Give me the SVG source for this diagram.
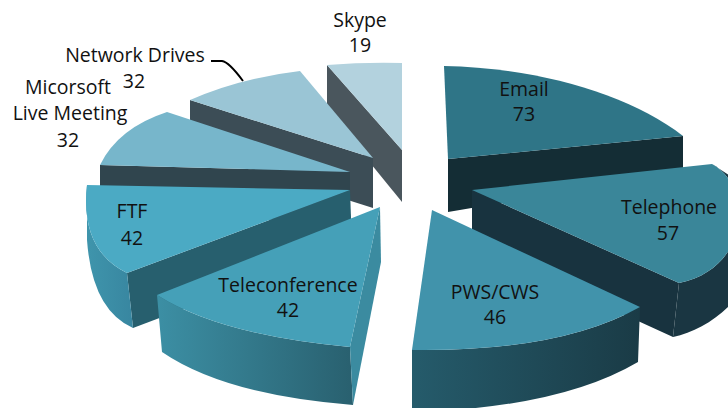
<svg xmlns="http://www.w3.org/2000/svg" width="728" height="408" viewBox="0 0 728 408">
  <defs>
    <linearGradient id="gTeleconfSide" x1="0" y1="0" x2="1" y2="0">
      <stop offset="0" stop-color="#3C8FA4"/>
      <stop offset="1" stop-color="#29606F"/>
    </linearGradient>
    <linearGradient id="gPwsSide" x1="0" y1="0" x2="1" y2="0">
      <stop offset="0" stop-color="#255B6B"/>
      <stop offset="1" stop-color="#1A3B46"/>
    </linearGradient>
    <linearGradient id="gFtfSide" x1="0" y1="0" x2="1" y2="0">
      <stop offset="0" stop-color="#3F95AC"/>
      <stop offset="1" stop-color="#3886A0"/>
    </linearGradient>
  </defs>
  <style>
    .lbl { font-family: "Open Sans", "Liberation Sans", sans-serif; font-size: 19.5px; fill: #111; text-anchor: middle; }
    .lead { fill: none; stroke: #000; stroke-width: 2; }
  </style>

  <!-- slices, drawn back to front -->
  <g id="slice-skype">
    <path d="M327,65 L402,150 L402,202 L327,110 Z" fill="#4A565D"/>
    <path d="M327,65 Q365,62 402,63 L402,150 Z" fill="#B3D2DE"/>
  </g>

  <g id="slice-network-drives">
    <path d="M190,100 L373,158 L373,208 L190,150 Z" fill="#3C4D56"/>
    <path d="M190,100 Q240,78 300,71 L373,158 Z" fill="#9AC5D5"/>
  </g>

  <g id="slice-email">
    <path d="M448,159 L683,136 L683,172 L448,212 Z" fill="#142D35"/>
    <path d="M444,66 C540,68 630,95 683,136 L448,159 Z" fill="#2F7587"/>
  </g>

  <g id="slice-live-meeting">
    <path d="M100,165 L350,172 L350,222 L100,215 Z" fill="#30454E"/>
    <path d="M100,165 Q118,128 167,112 L350,172 Z" fill="#77B6CB"/>
  </g>

  <g id="slice-telephone">
    <path d="M472,190 L679,283 L673,337 L472,245 Z" fill="#18333F"/>
    <path d="M712,164 C752,185 752,268 679,283 L673,337 C705,330 740,305 752,270 L752,190 Z" fill="#1A3642"/>
    <path d="M472,190 L712,164 C752,185 752,268 679,283 Z" fill="#3A8699"/>
  </g>

  <g id="slice-ftf">
    <path d="M350,190 L127,273 L133,328 L352,245 Z" fill="#275F6E"/>
    <path d="M87,185 Q80,250 127,273 L133,328 Q92,310 87,240 Z" fill="url(#gFtfSide)"/>
    <path d="M87,185 L350,190 L127,273 Q80,250 87,185 Z" fill="#4BAAC4"/>
  </g>

  <g id="slice-teleconference">
    <path d="M157,295 Q220,335 350,347 L353,405 Q225,395 162,352 Z" fill="url(#gTeleconfSide)"/>
    <path d="M380,207 L381,262 L353,405 L350,347 Z" fill="#3B8BA0"/>
    <path d="M380,207 L157,295 Q220,335 350,347 Z" fill="#45A0B8"/>
  </g>

  <g id="slice-pws-cws">
    <path d="M412,350 Q560,352 640,307 L638,362 Q560,408 412,412 Z" fill="url(#gPwsSide)"/>
    <path d="M432,210 L640,307 Q560,352 412,350 Z" fill="#4193AB"/>
  </g>

  <!-- leader line -->
  <g id="connectors">
    <path class="lead" d="M211,61 L222,61 Q229,62 243,81"/>
  </g>

  <!-- labels -->
  <g id="labels">
    <text class="lbl" x="360" y="27">Skype</text>
    <text class="lbl" x="360" y="52">19</text>
    <text class="lbl" x="135" y="62">Network Drives</text>
    <text class="lbl" x="134" y="88">32</text>
    <text class="lbl" x="68" y="94">Micorsoft</text>
    <text class="lbl" x="70" y="120">Live Meeting</text>
    <text class="lbl" x="68" y="147">32</text>
    <text class="lbl" x="524" y="96">Email</text>
    <text class="lbl" x="524" y="121">73</text>
    <text class="lbl" x="669" y="214">Telephone</text>
    <text class="lbl" x="668" y="240">57</text>
    <text class="lbl" x="495" y="299">PWS/CWS</text>
    <text class="lbl" x="495" y="324">46</text>
    <text class="lbl" x="288" y="292">Teleconference</text>
    <text class="lbl" x="288" y="317">42</text>
    <text class="lbl" x="132" y="218">FTF</text>
    <text class="lbl" x="132" y="245">42</text>
  </g>
</svg>
